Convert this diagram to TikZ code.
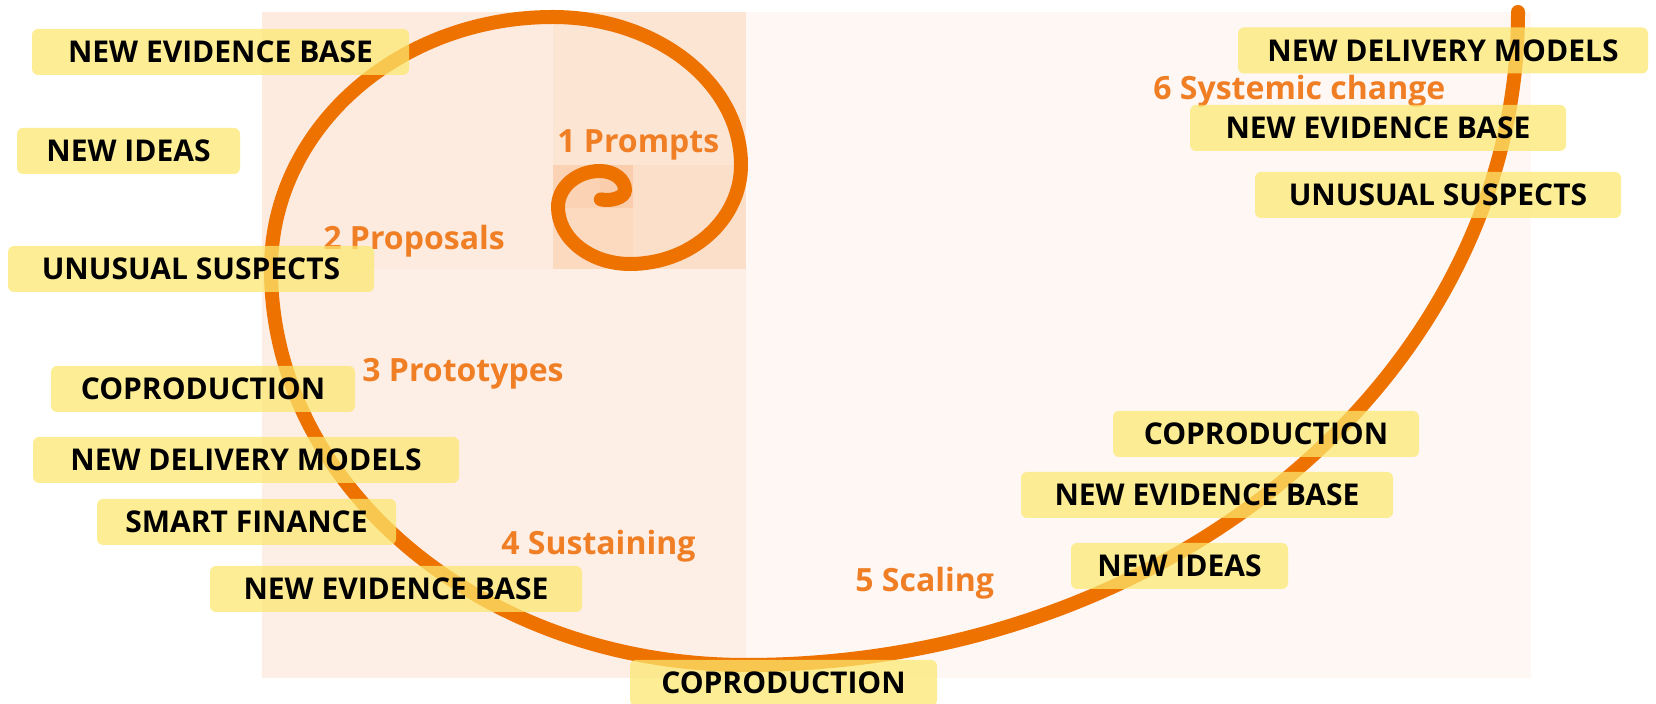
\documentclass[tikz,border=0pt]{standalone}
\usepackage{fontspec}
\setmainfont{Open Sans}
\usepackage{tikz}
\usetikzlibrary{backgrounds}
\definecolor{spiralorange}{RGB}{238,114,0}
\definecolor{stageorange}{RGB}{240,126,36}
\definecolor{tagyellow}{RGB}{252,232,110}
\definecolor{tileA}{RGB}{254,247,243}
\definecolor{tileB}{RGB}{253,239,230}
\definecolor{tileC}{RGB}{253,235,223}
\definecolor{tileD}{RGB}{253,229,211}
\definecolor{tileE}{RGB}{252,223,200}
\definecolor{tileF}{RGB}{252,218,192}
\definecolor{tileG}{RGB}{251,211,180}
\definecolor{tileH}{RGB}{250,205,172}

\begin{document}
\begin{tikzpicture}[x=0.5pt,y=-0.5pt,
    tag/.style={fill=tagyellow, fill opacity=0.72, text opacity=1, rounded corners=3pt,
      minimum height=23pt, inner sep=0pt, font=\fontsize{15}{18}\selectfont\bfseries},
    stage/.style={anchor=base west, inner sep=0pt, text=stageorange,
      font=\fontsize{16}{19}\selectfont\bfseries},
    spiral/.style={draw=spiralorange, line width=7pt, line cap=round}]
      \useasboundingbox (0,0) rectangle (1656,704);
      % golden rectangle tiles
      \fill[tileA] (746,12) rectangle (1531,678);
      \fill[tileB] (262,269) rectangle (746,678);
      \fill[tileC] (262,12) rectangle (553,269);
      \fill[tileD] (553,12) rectangle (746,165);
      \fill[tileE] (633,165) rectangle (746,269);
      \fill[tileF] (553,208) rectangle (633,269);
      \fill[tileG] (553,165) rectangle (600,208);
      \fill[tileH] (600,165) rectangle (633,208);
      % the spiral, outside in
      \draw[spiral] (1518,12)
        arc[start angle=0, end angle=90, x radius=772, y radius=653]
        arc[start angle=90, end angle=180, x radius=475, y radius=396]
        arc[start angle=180, end angle=270, x radius=282, y radius=252]
        arc[start angle=270, end angle=360, x radius=188, y radius=148]
        arc[start angle=0, end angle=90, x radius=111, y radius=99]
        arc[start angle=90, end angle=180, x radius=72, y radius=57]
        arc[start angle=180, end angle=270, x radius=42, y radius=36]
        arc[start angle=270, end angle=360, x radius=25, y radius=19]
        arc[start angle=0, end angle=110, x radius=18, y radius=10];
      % stages
      \node[name=s1, stage] at (557,153){1 Prompts};
      \node[name=s2, stage] at (323,250){2 Proposals};
      \node[name=s3, stage] at (362,382){3 Prototypes};
      \node[name=s4, stage] at (501,555){4 Sustaining};
      \node[name=s5, stage] at (855,592){5 Scaling};
      \node[name=s6, stage] at (1153,100){6 Systemic change};
      % tags, left side
      \node[name=evidenceA, tag, minimum width=188.5pt] at (220.5,52){NEW EVIDENCE BASE};
      \node[name=ideasA, tag, minimum width=111.5pt] at (128.5,151){NEW IDEAS};
      \node[name=suspectsA, tag, minimum width=183pt] at (191,269){UNUSUAL SUSPECTS};
      \node[name=coprodA, tag, minimum width=152pt] at (203,389){COPRODUCTION};
      \node[name=deliveryA, tag, minimum width=213pt] at (246,460){NEW DELIVERY MODELS};
      \node[name=finance, tag, minimum width=149.5pt] at (246.5,522){SMART FINANCE};
      \node[name=evidenceB, tag, minimum width=186pt] at (396,589){NEW EVIDENCE BASE};
      \node[name=coprodB, tag, minimum width=153.5pt] at (783.5,683){COPRODUCTION};
      % tags, right side
      \node[name=deliveryB, tag, minimum width=205pt] at (1443,50.5){NEW DELIVERY MODELS};
      \node[name=evidenceC, tag, minimum width=188pt] at (1378,128){NEW EVIDENCE BASE};
      \node[name=suspectsB, tag, minimum width=183pt] at (1438,195){UNUSUAL SUSPECTS};
      \node[name=coprodC, tag, minimum width=153pt] at (1266,434){COPRODUCTION};
      \node[name=evidenceD, tag, minimum width=186pt] at (1207,495){NEW EVIDENCE BASE};
      \node[name=ideasB, tag, minimum width=108.5pt] at (1179.5,566){NEW IDEAS};
   \end{tikzpicture}
\end{document}
